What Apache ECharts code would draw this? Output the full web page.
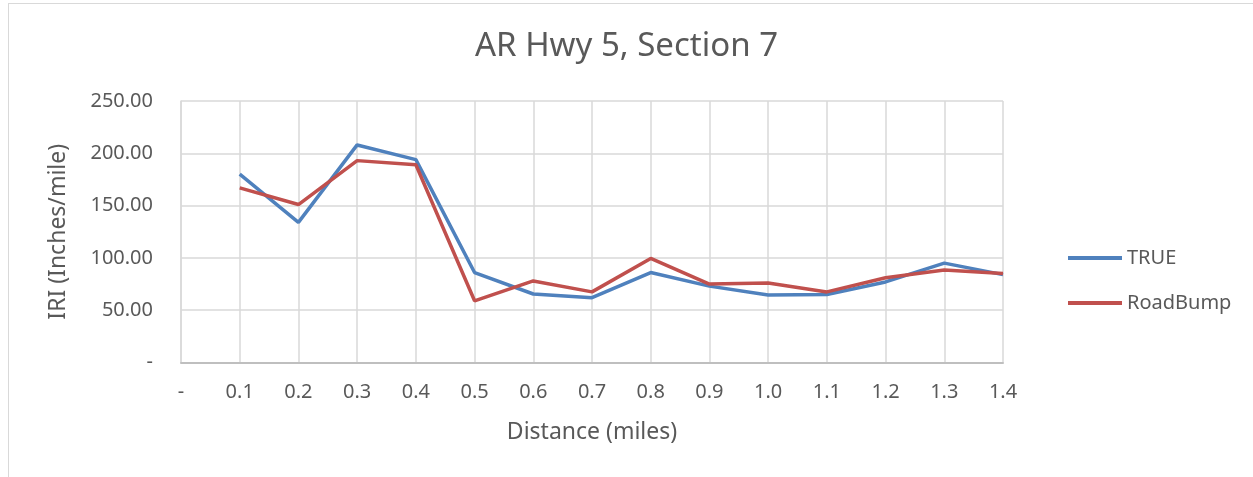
<!DOCTYPE html>
<html>
<head>
<meta charset="utf-8">
<script src="https://cdn.jsdelivr.net/npm/echarts@6/dist/echarts.min.js"></script>
<style>
    html, body { margin: 0; padding: 0; background: #fff; }
    #frame { position: absolute; left: 8px; top: 3px; width: 1260px; height: 490px; border: 1px solid #d9d9d9; }
    #chart { position: absolute; left: 0; top: 0; width: 1253px; height: 477px; }
</style>
</head>
<body>
<div id="frame"></div>
<div id="chart"></div>
<script>
// distance in miles, first slot is the zero point shown as "-"
var distances = ['-', '0.1', '0.2', '0.3', '0.4', '0.5', '0.6', '0.7', '0.8', '0.9', '1.0', '1.1', '1.2', '1.3', '1.4'];
var trueIri = [null, 180, 134, 208, 194, 86, 65.5, 62, 86, 73, 64.5, 65, 77, 95, 84];
var roadBumpIri = [null, 167, 151, 193, 189, 59, 78, 67.5, 99.5, 75, 76, 67.5, 81, 88.5, 85];

var textColor = '#595959';
var font = 'Noto Sans';

var chart = echarts.init(document.getElementById('chart'));
chart.setOption({
    animation: false,
    textStyle: { fontFamily: font, color: textColor },
    title: {
        text: 'AR Hwy 5, Section 7',
        left: 'center',
        top: 25,
        textStyle: { fontFamily: font, fontSize: 33, fontWeight: 'normal', color: textColor }
    },
    grid: {
        left: 181,
        right: 250,
        top: 101,
        bottom: 114.5,
        containLabel: false
    },
    legend: {
        orient: 'vertical',
        left: 1063,
        top: 243,
        itemGap: 25,
        itemWidth: 54,
        itemHeight: 4,
        icon: 'rect',
        textStyle: { fontFamily: font, fontSize: 20, color: textColor },
        data: ['TRUE', 'RoadBump']
    },
    xAxis: {
        type: 'category',
        data: distances,
        boundaryGap: false,
        name: 'Distance (miles)',
        nameLocation: 'middle',
        nameGap: 58,
        nameTextStyle: { fontFamily: font, fontSize: 23, color: textColor },
        axisLine: { lineStyle: { color: '#bfbfbf', width: 2 } },
        axisTick: { show: false },
        axisLabel: { fontFamily: font, fontSize: 20, color: textColor, margin: 20 },
        splitLine: { show: true, lineStyle: { color: '#d9d9d9', width: 1.5 } }
    },
    yAxis: {
        type: 'value',
        min: 0,
        max: 250,
        interval: 50,
        name: 'IRI (Inches/mile)',
        nameLocation: 'middle',
        nameGap: 111,
        nameTextStyle: { fontFamily: font, fontSize: 23, color: textColor },
        axisLine: { show: true, lineStyle: { color: '#d9d9d9', width: 1.5 } },
        axisTick: { show: false },
        axisLabel: {
            fontFamily: font,
            fontSize: 20,
            color: textColor,
            margin: 28,
            formatter: function (v) { return v === 0 ? '-' : v.toFixed(2); }
        },
        splitLine: { lineStyle: { color: '#d9d9d9', width: 1.5 } }
    },
    series: [{
        name: 'TRUE',
        type: 'line',
        data: trueIri,
        symbol: 'none',
        lineStyle: { color: '#4f81bd', width: 3.5 },
        itemStyle: { color: '#4f81bd' }
    }, {
        name: 'RoadBump',
        type: 'line',
        data: roadBumpIri,
        symbol: 'none',
        lineStyle: { color: '#c0504d', width: 3.5 },
        itemStyle: { color: '#c0504d' }
    }]
});
</script>
</body>
</html>
